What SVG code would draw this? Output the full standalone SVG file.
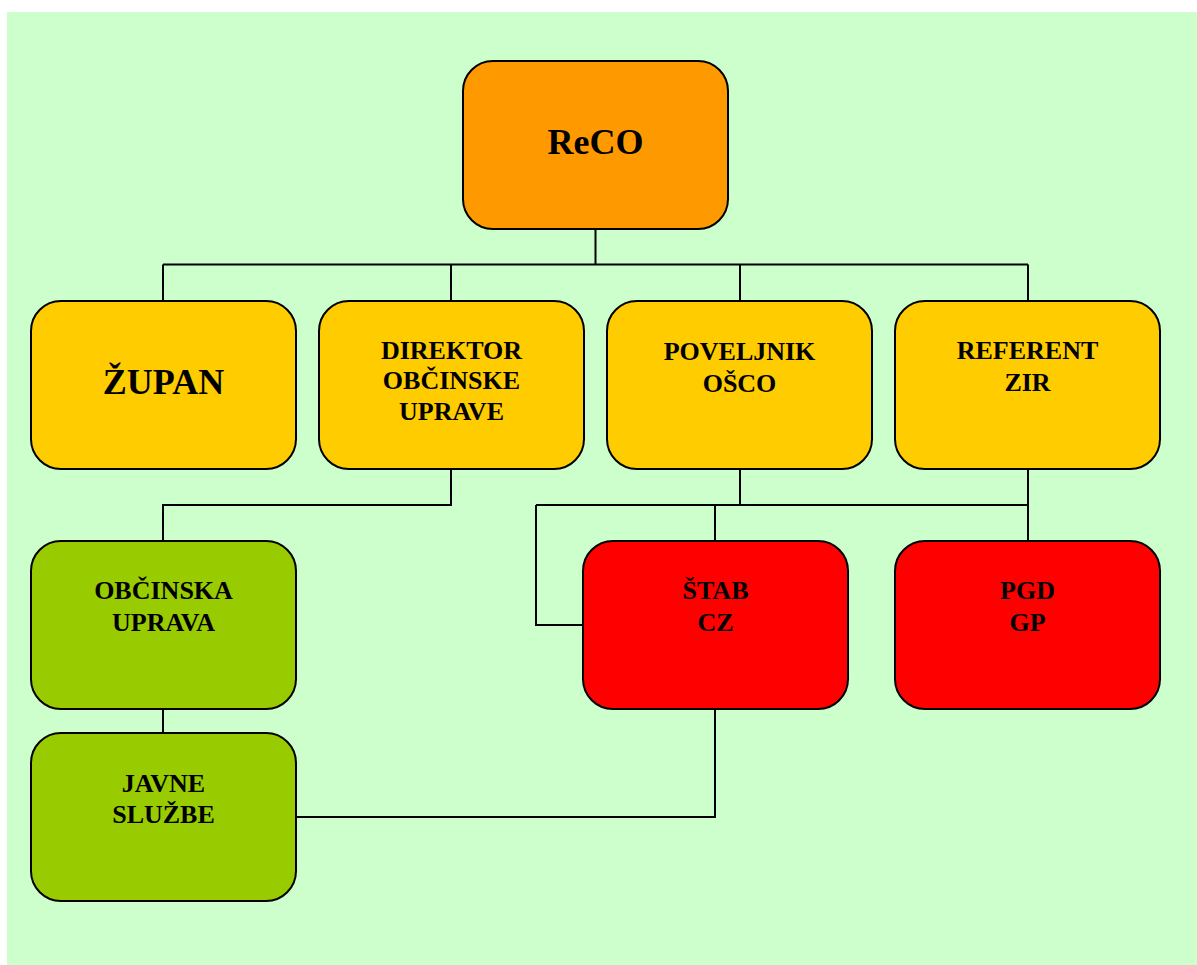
<svg xmlns="http://www.w3.org/2000/svg" width="1197" height="965" viewBox="0 0 1197 965">
<style>
.box{stroke:#000;stroke-width:2}
.orange{fill:#ff9900}
.yellow{fill:#ffcc00}
.green{fill:#99cc00}
.red{fill:#ff0000}
.lbl{font-family:"Liberation Serif","Times New Roman",serif;font-weight:bold;font-size:26px;text-anchor:middle;fill:#000}
.big{font-size:36px}
.conn{fill:none;stroke:#000;stroke-width:2}
</style>
<rect x="7" y="12" width="1190" height="953" fill="#ccffcc"/>
<g id="connectors">
<path class="conn" d="M595.5 229V264.5M163 264.5H1028M163 264.5V301M451 264.5V301M740 264.5V301M1028 264.5V301"/>
<path class="conn" d="M451 469V505H163V541"/>
<path class="conn" d="M740 469V505M536 505H1028M1028 469V541M715 505V541M536 505V625H583"/>
<path class="conn" d="M163 709V733"/>
<path class="conn" d="M296 817H715V709"/>
</g>
<g id="reco"><rect class="box orange" x="463" y="61" width="265" height="168" rx="30"/><text class="lbl big" x="595.5" y="154">ReCO</text></g>
<g id="zupan"><rect class="box yellow" x="31" y="301" width="265" height="168" rx="30"/><text class="lbl big" x="163.5" y="394">ŽUPAN</text></g>
<g id="direktor"><rect class="box yellow" x="319" y="301" width="265" height="168" rx="30"/><text class="lbl" x="451.5" y="359">DIREKTOR</text><text class="lbl" x="451.5" y="389">OBČINSKE</text><text class="lbl" x="451.5" y="420">UPRAVE</text></g>
<g id="poveljnik"><rect class="box yellow" x="607" y="301" width="265" height="168" rx="30"/><text class="lbl" x="739.5" y="360">POVELJNIK</text><text class="lbl" x="739.5" y="392">OŠCO</text></g>
<g id="referent"><rect class="box yellow" x="895" y="301" width="265" height="168" rx="30"/><text class="lbl" x="1027.5" y="359">REFERENT</text><text class="lbl" x="1027.5" y="391">ZIR</text></g>
<g id="obcinska"><rect class="box green" x="31" y="541" width="265" height="168" rx="30"/><text class="lbl" x="163.5" y="599">OBČINSKA</text><text class="lbl" x="163.5" y="631">UPRAVA</text></g>
<g id="stab"><rect class="box red" x="583" y="541" width="265" height="168" rx="30"/><text class="lbl" x="715.5" y="599">ŠTAB</text><text class="lbl" x="715.5" y="631">CZ</text></g>
<g id="pgd"><rect class="box red" x="895" y="541" width="265" height="168" rx="30"/><text class="lbl" x="1027.5" y="599">PGD</text><text class="lbl" x="1027.5" y="631">GP</text></g>
<g id="javne"><rect class="box green" x="31" y="733" width="265" height="168" rx="30"/><text class="lbl" x="163.5" y="792">JAVNE</text><text class="lbl" x="163.5" y="823">SLUŽBE</text></g>
</svg>
